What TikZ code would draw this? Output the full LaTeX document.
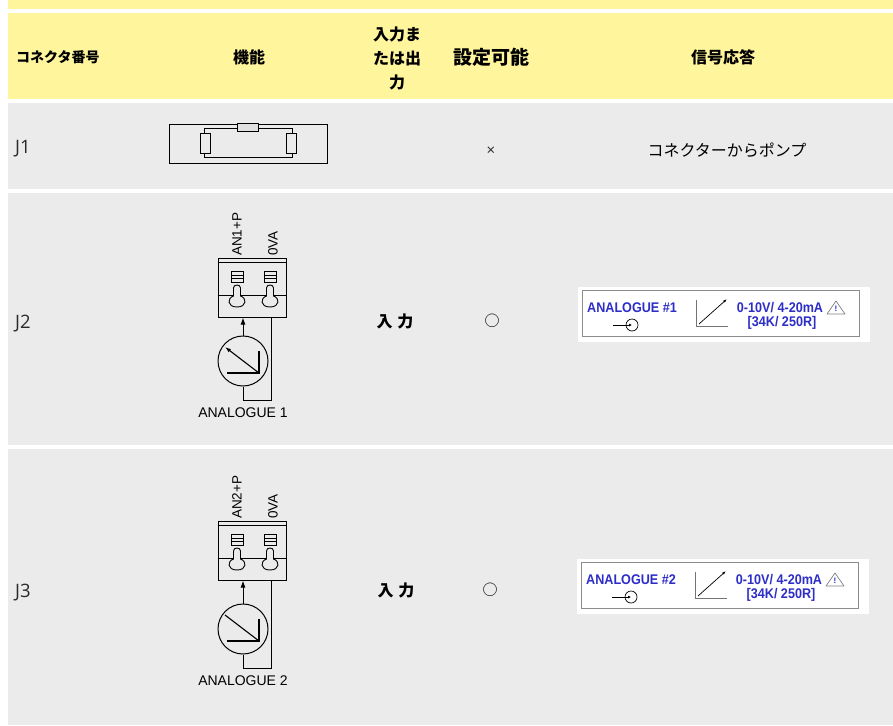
\documentclass[tikz,border=0pt]{standalone}
\usepackage{fontspec}
\setmainfont{Open Sans}
\newfontfamily\jpfont{Noto Sans CJK JP}
\newfontfamily\arialfont{Liberation Sans}
\newfontfamily\sigfont[FakeStretch=0.9]{Liberation Sans}
\usetikzlibrary{arrows.meta,positioning,calc}

\definecolor{hdryellow}{HTML}{FFF59D}
\definecolor{rowgray}{HTML}{EBEBEB}
\definecolor{sigblue}{HTML}{2D2DC8}
\definecolor{celltxt}{HTML}{2A2A2A}

\tikzset{
  hdr/.style={inner sep=0, font=\jpfont\bfseries\fontsize{16}{24}\selectfont, text=black},
  cell/.style={inner sep=0, font=\fontsize{18.5}{20}\selectfont, text=celltxt},
  jpcell/.style={inner sep=0, font=\jpfont\fontsize{16}{20}\selectfont, text=black},
  pinlbl/.style={inner sep=0, font=\arialfont\fontsize{13.5}{16}\selectfont, rotate=90, anchor=west},
  blocklbl/.style={inner sep=0, font=\arialfont\fontsize{14}{16}\selectfont},
  sigtext/.style={inner sep=0, font=\sigfont\bfseries\fontsize{14}{15}\selectfont, text=sigblue},
  wire/.style={line width=1pt, black},
  ptr/.style={-{Latex[length=6pt,width=4pt]}},
  noptr/.style={},
}

\begin{document}
\begin{tikzpicture}[x=1pt, y=-1pt]
\useasboundingbox (0,0) rectangle (893,725);
% background bands
\fill[white] (0,0) rectangle (893,725);
\fill[hdryellow] (8,0) rectangle (893,9);
\fill[hdryellow] (8,13) rectangle (893,99);
\fill[rowgray] (8,103) rectangle (893,189);
\fill[rowgray] (8,193) rectangle (893,445);
\fill[rowgray] (8,449) rectangle (893,725);

% header
\node[hdr, font=\jpfont\bfseries\fontsize{14}{16}\selectfont, anchor=west] (hno) at (16,57.5) {コネクタ番号};
\node[hdr] (hfun) at (249,57) {機能};
\node[hdr, align=center] (hio) at (397,58) {入力ま\\たは出\\力};
\node[hdr, font=\jpfont\bfseries\fontsize{19}{22}\selectfont] (hset) at (491,57) {設定可能};
\node[hdr] (hsig) at (723,57) {信号応答};

% row J1
\node[cell, anchor=base west] (j1) at (15,153) {J1};
\node[draw, line width=0.9pt, minimum width=158pt, minimum height=39pt, inner sep=0] (pump) at (248,143.5) {};
\draw[line width=0.8pt] (204,128) rectangle (292,157);
\draw[line width=0.8pt, fill=black!12] (237,123) rectangle (258,131);
\draw[line width=0.8pt, fill=rowgray] (200,133) rectangle (210,153);
\draw[line width=0.8pt, fill=rowgray] (286,133) rectangle (296,153);
\node[cell, font=\fontsize{15}{16}\selectfont] (x1) at (491,151) {×};
\node[jpcell] (pp) at (727,150) {コネクターからポンプ};

% rows J2, J3
\node[cell, anchor=base west] (j2) at (15,328) {J2};
\node[cell, anchor=base west] (j3) at (15,597) {J3};
\node[jpcell, font=\jpfont\bfseries\fontsize{16}{20}\selectfont] (io2) at (395,321) {入\hspace{5pt}力};
\node[jpcell, font=\jpfont\bfseries\fontsize{16}{20}\selectfont] (io3) at (396,590) {入\hspace{5pt}力};
\node[jpcell, font=\jpfont\fontsize{15}{18}\selectfont] (ok2) at (492,321) {○};
\node[jpcell, font=\jpfont\fontsize{15}{18}\selectfont] (ok3) at (490,590) {○};

% terminal blocks and sensors
\foreach \n/\dy/\dg/\tip in {1/0/0/ptr, 2/263/268/noptr}{
  \node[draw, line width=1pt, minimum width=68pt, minimum height=59pt, inner sep=0] (blk\n) at (252,287.5+\dy) {};
  \draw[line width=1pt] ([yshift=-5pt]blk\n.north west) -- ([yshift=-5pt]blk\n.north east);
  \draw[line width=0.8pt] ([yshift=-7.5pt]blk\n.west) -- ([yshift=-7.5pt]blk\n.east);
  \foreach \tx in {237,270}{
    \draw[line width=0.8pt] (\tx-6,271+\dy) rectangle (\tx+6,282+\dy);
    \draw[line width=0.8pt] (\tx-6,275+\dy) -- (\tx+6,275+\dy) (\tx-6,278+\dy) -- (\tx+6,278+\dy);
    \draw[line width=0.9pt, fill=rowgray] (\tx-3.5,288+\dy) .. controls (\tx-3.5,284+\dy) and (\tx+3.5,284+\dy) .. (\tx+3.5,288+\dy) -- (\tx+3.5,296+\dy) .. controls (\tx+10,298+\dy) and (\tx+10,307+\dy) .. (\tx,307+\dy) .. controls (\tx-10,307+\dy) and (\tx-10,298+\dy) .. (\tx-3.5,296+\dy) -- cycle;
  }
  \node[pinlbl] (pa\n) at (237,256+\dy) {AN\n+P};
  \node[pinlbl] (pb\n) at (273,256+\dy) {0VA};
  \node[draw, circle, line width=1pt, minimum size=50pt, inner sep=0] (gauge\n) at (243,361+\dg) {};
  \draw[wire, -{Latex[length=7pt,width=5pt]}] (gauge\n.north) -- (gauge\n.north |- blk\n.south);
  \draw[wire] (gauge\n.south) -- ++(0,14) -| ([xshift=19pt]blk\n.south);
  \begin{scope}[shift={(gauge\n.center)}]
    \draw[line width=1.1pt] (16,-10) -- (16,12) -- (-16,12);
    \draw[line width=1.1pt, \tip] (16,12) -- (-18,-14);
  \end{scope}
  \node[blocklbl, below=21pt of gauge\n] (an\n) {ANALOGUE \n};
}

% signal response panels
\foreach \n/\sx/\sy in {1/578/287, 2/577/559}{
  \node[fill=white, minimum width=292pt, minimum height=55pt, inner sep=0, anchor=north west] (sig\n) at (\sx,\sy) {};
  \begin{scope}[shift={(sig\n.north west)}]
    \draw[black!45, line width=0.8pt] (4,3) rectangle (281,49);
    \node[sigtext, anchor=west] (nm\n) at (9,21) {ANALOGUE \#\n};
    \node[draw, circle, line width=0.7pt, minimum size=12pt, inner sep=0] (ci\n) at (54,38) {};
    \draw[line width=0.7pt, -{Latex[length=3pt,width=3pt]}] (35,38) -- (ci\n.center);
    \draw[black!55, line width=0.8pt] (118,13) |- (150,39);
    \draw[line width=0.7pt, -{Latex[length=4pt,width=2.5pt]}] (121,37) -- (149,12);
    \node[sigtext] (rg\n) at (202,21) {0-10V/ 4-20mA};
    \node[sigtext] (ld\n) at (204,35.5) {[34K/ 250R]};
    \draw[black!50, line width=0.7pt, line join=round] (249,27) -- (258,14) -- (267,27) -- cycle;
    \node[sigtext, font=\arialfont\bfseries\fontsize{8}{9}\selectfont] (wn\n) at (258,22) {!};
  \end{scope}
}
\end{tikzpicture}
\end{document}
